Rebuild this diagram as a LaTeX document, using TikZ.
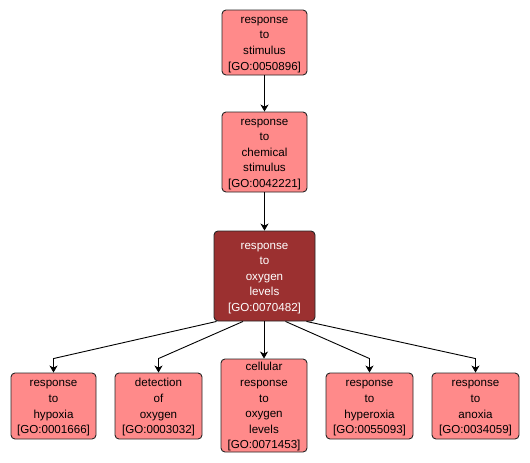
\documentclass[tikz,border=0pt]{standalone}
\usepackage{fontspec}
\setmainfont{Liberation Sans}
\usetikzlibrary{arrows.meta,calc}
\definecolor{lightgo}{HTML}{FF8A8A}
\definecolor{darkgo}{HTML}{9B3030}
\newcommand{\topstrut}{\rule{0pt}{11pt}}
\tikzset{
  goterm/.style={draw=black!85, line width=0.9pt, rounded corners=4pt, fill=lightgo,
    align=center, inner sep=0pt, font=\fontsize{11.6}{15.6}\selectfont, text=black},
  goroot/.style={goterm, fill=darkgo, text=white},
  link/.style={draw=black, line width=0.9pt, -{Stealth[length=7pt,width=8pt,inset=2pt]}}
}
\begin{document}
\begin{tikzpicture}[x=1pt,y=-1pt]
\useasboundingbox (0,0) rectangle (530,463);
\node[goterm, minimum width=85pt, minimum height=65pt] (n1) at (264.5,42.5) {\topstrut response\\to\\stimulus\\{[GO:0050896]}};
\node[goterm, minimum width=85pt, minimum height=80pt] (n2) at (264.5,152) {\topstrut response\\to\\chemical\\stimulus\\{[GO:0042221]}};
\node[goroot, minimum width=101pt, minimum height=90pt] (n3) at (264.5,276) {\topstrut response\\to\\oxygen\\levels\\{[GO:0070482]}};
\node[goterm, minimum width=85pt, minimum height=66pt] (n4) at (53.5,406) {\topstrut response\\to\\hypoxia\\{[GO:0001666]}};
\node[goterm, minimum width=87pt, minimum height=66pt] (n5) at (158.5,406) {\topstrut detection\\of\\oxygen\\{[GO:0003032]}};
\node[goterm, minimum width=86pt, minimum height=93pt] (n6) at (264,405.5) {\topstrut cellular\\response\\to\\oxygen\\levels\\{[GO:0071453]}};
\node[goterm, minimum width=87pt, minimum height=66pt] (n7) at (369.5,406) {\topstrut response\\to\\hyperoxia\\{[GO:0055093]}};
\node[goterm, minimum width=87pt, minimum height=66pt] (n8) at (475.5,406) {\topstrut response\\to\\anoxia\\{[GO:0034059]}};
\draw[link] (n1) -- (n2);
\draw[link] (n2) -- (n3);
\draw[link] ([xshift=-48pt]n3.south) -- ($(n4.north)+(0,-14)$) -- (n4.north);
\draw[link] ([xshift=-21.5pt]n3.south) -- ($(n5.north)+(0,-14)$) -- (n5.north);
\draw[link] (n3.south -| n6.north) -- (n6.north);
\draw[link] ([xshift=21pt]n3.south) -- ($(n7.north)+(0,-14)$) -- (n7.north);
\draw[link] ([xshift=42pt]n3.south) -- ($(n8.north)+(0,-14)$) -- (n8.north);
\end{tikzpicture}
\end{document}
